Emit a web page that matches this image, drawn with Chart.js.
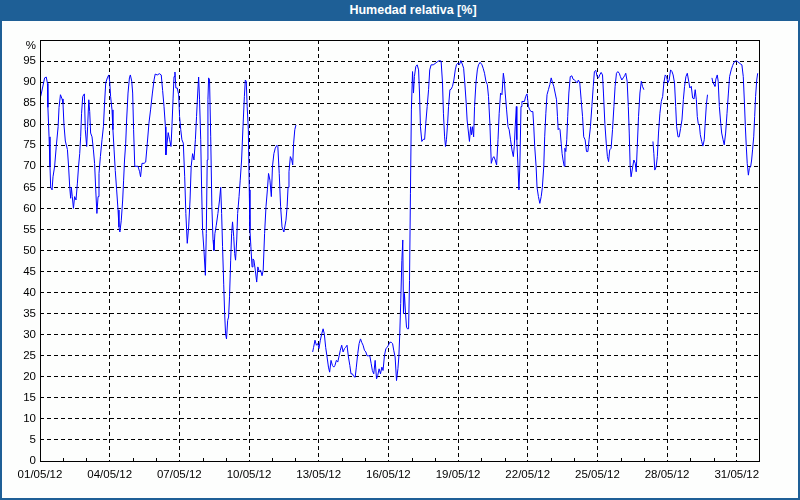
<!DOCTYPE html>
<html>
<head>
<meta charset="utf-8">
<script src="https://cdn.jsdelivr.net/npm/chart.js@4"></script>
<style>
  html, body { margin: 0; padding: 0; background: #fdfefd; }
  #wrap { position: relative; width: 800px; height: 500px; background: #fdfefd; overflow: hidden; }
  #wrap canvas { position: absolute; left: 0; top: 0; }
  #border { position: absolute; left: 0; top: 0; width: 800px; height: 500px; box-sizing: border-box;
            border: 2px solid #1e5f96; pointer-events: none; }
  #title { position: absolute; left: 0; top: 0; width: 800px; height: 21px; box-sizing: border-box;
           padding-left: 26px; background: #1e5f96; color: #ffffff; text-align: center;
           font: bold 12.5px "Liberation Sans", Arial, sans-serif; line-height: 21px; }
</style>
</head>
<body>
<div id="wrap">
  <canvas id="c" width="800" height="500"></canvas>
  <div id="border"></div>
  <div id="title">Humedad relativa [%]</div>
</div>
<script>
// ---- data: [day since 01/05/12 00:00, relative humidity %] ----
const segment1 = [[0.03,86.6],[0.20,91.0],[0.27,91.2],[0.32,89.7],[0.34,84.0],[0.39,77.0],[0.43,70.0],[0.46,65.0],[0.52,64.4],[0.56,67.5],[0.63,70.0],[0.70,74.7],[0.78,79.4],[0.82,84.0],[0.88,87.0],[0.95,86.0],[0.99,85.0],[1.03,80.0],[1.09,76.0],[1.18,74.0],[1.23,70.0],[1.28,65.0],[1.32,62.4],[1.35,65.0],[1.39,62.8],[1.44,60.0],[1.49,62.8],[1.55,62.0],[1.61,66.0],[1.66,70.0],[1.71,73.0],[1.75,77.0],[1.79,82.6],[1.84,86.6],[1.91,87.2],[1.95,78.7],[2.01,74.7],[2.05,79.4],[2.10,85.8],[2.14,83.0],[2.18,77.9],[2.24,77.0],[2.30,73.9],[2.35,70.7],[2.40,64.4],[2.45,58.8],[2.50,62.8],[2.54,68.3],[2.60,72.3],[2.67,76.3],[2.73,79.4],[2.78,85.0],[2.83,89.8],[2.90,91.0],[2.96,91.7],[3.00,90.2],[3.04,86.6],[3.10,83.4],[3.14,78.7],[3.19,73.9],[3.24,69.0],[3.30,64.4],[3.36,59.6],[3.40,55.6],[3.44,54.4],[3.50,57.2],[3.56,62.0],[3.60,66.7],[3.64,71.5],[3.69,75.5],[3.73,81.0],[3.79,87.4],[3.85,91.0],[3.89,91.7],[3.95,90.2],[3.99,87.4],[4.03,78.7],[4.08,70.0],[4.22,70.0],[4.29,68.7],[4.33,67.5],[4.39,70.7],[4.48,70.7],[4.55,71.0],[4.62,75.5],[4.69,80.2],[4.76,83.4],[4.84,87.4],[4.91,90.5],[4.96,91.9],[5.05,91.7],[5.14,92.0],[5.22,91.7],[5.28,88.0],[5.34,84.2],[5.40,79.4],[5.42,72.7],[5.47,75.5],[5.52,78.0],[5.58,76.3],[5.64,74.7],[5.68,79.4],[5.73,86.2],[5.77,91.3],[5.81,92.4],[5.85,88.6],[5.91,88.6],[5.97,87.0],[6.01,81.8],[6.06,78.7],[6.11,76.3],[6.17,75.5],[6.23,67.5],[6.28,58.8],[6.34,51.7],[6.40,55.6],[6.46,62.0],[6.51,70.0],[6.57,73.0],[6.63,71.5],[6.69,76.3],[6.74,81.8],[6.79,87.4],[6.83,91.2],[6.87,85.8],[6.92,76.3],[6.96,64.4],[7.00,54.8],[7.06,50.0],[7.12,44.1],[7.16,54.0],[7.20,71.5],[7.23,85.8],[7.26,91.0],[7.30,90.5],[7.35,77.0],[7.40,60.4],[7.45,52.5],[7.49,50.0],[7.53,54.0],[7.59,56.0],[7.66,58.8],[7.73,62.0],[7.78,65.0],[7.82,58.8],[7.86,50.9],[7.91,42.0],[7.95,35.0],[7.99,30.2],[8.03,29.0],[8.08,33.4],[8.12,34.2],[8.16,39.0],[8.21,47.7],[8.25,54.0],[8.29,56.8],[8.34,53.3],[8.38,49.3],[8.42,47.7],[8.47,52.5],[8.51,58.8],[8.57,62.8],[8.62,66.7],[8.68,71.5],[8.74,79.4],[8.80,86.6],[8.84,90.5],[8.88,90.2],[8.92,84.2],[8.97,78.7],[9.01,64.4],[9.04,54.8],[9.08,50.9],[9.13,46.1],[9.17,48.0],[9.21,47.7],[9.27,45.3],[9.33,42.5],[9.38,46.1],[9.44,45.0],[9.50,45.3],[9.56,44.0],[9.61,45.3],[9.67,54.0],[9.73,60.4],[9.79,64.4],[9.84,68.3],[9.90,66.7],[9.96,62.8],[10.01,70.0],[10.07,73.0],[10.13,74.3],[10.20,75.0],[10.24,74.7],[10.30,68.3],[10.36,60.4],[10.42,55.6],[10.50,54.4],[10.59,57.2],[10.64,60.4],[10.68,65.0],[10.72,68.7],[10.78,72.3],[10.84,71.5],[10.88,70.3],[10.92,75.5],[10.97,78.7],[11.02,79.8]];

const segment2 = [[11.74,25.9],[11.78,27.0],[11.84,28.7],[11.90,27.5],[11.96,27.9],[12.01,26.7],[12.07,28.7],[12.13,30.2],[12.19,31.4],[12.24,30.2],[12.30,27.0],[12.36,24.7],[12.42,22.3],[12.47,21.1],[12.53,23.9],[12.59,22.7],[12.65,22.3],[12.70,22.7],[12.76,23.9],[12.82,23.5],[12.88,25.0],[12.93,26.3],[12.99,27.5],[13.05,25.9],[13.11,26.7],[13.16,27.0],[13.22,27.5],[13.28,24.7],[13.34,22.7],[13.39,20.7],[13.45,20.7],[13.51,20.1],[13.57,19.9],[13.62,22.3],[13.68,25.5],[13.74,27.9],[13.80,29.0],[13.85,28.2],[13.91,27.5],[13.97,26.3],[14.03,25.9],[14.08,25.0],[14.14,25.0],[14.20,25.0],[14.26,23.1],[14.31,21.5],[14.37,20.7],[14.43,23.9],[14.49,19.5],[14.54,20.3],[14.60,21.9],[14.66,20.7],[14.72,22.3],[14.77,21.5],[14.83,25.0],[14.89,26.7],[14.95,27.0],[15.00,27.5],[15.06,28.2],[15.12,28.2],[15.18,27.9],[15.23,26.3],[15.29,24.7],[15.35,19.1],[15.41,21.9],[15.45,24.7],[15.49,30.2],[15.53,37.4],[15.58,47.6],[15.62,52.5],[15.65,35.0],[15.69,39.8],[15.74,35.0],[15.78,31.8],[15.82,31.4],[15.87,31.4],[15.91,42.9],[15.95,63.6],[15.99,83.4],[16.04,92.5],[16.08,87.4],[16.12,91.3],[16.18,93.7],[16.24,94.1],[16.30,92.9],[16.34,87.4],[16.38,79.4],[16.44,75.9],[16.50,76.4],[16.56,76.4],[16.61,80.2],[16.67,84.2],[16.73,88.2],[16.78,92.9],[16.84,94.1],[16.93,94.1],[17.01,94.4],[17.10,94.8],[17.19,95.1],[17.27,95.0],[17.33,89.8],[17.37,82.6],[17.42,77.0],[17.46,74.7],[17.50,76.3],[17.55,80.2],[17.59,84.2],[17.65,88.2],[17.70,88.3],[17.76,89.0],[17.82,90.5],[17.88,92.9],[17.93,94.1],[17.99,94.5],[18.06,94.1],[18.12,95.1],[18.18,94.3],[18.24,93.3],[18.29,89.8],[18.35,85.0],[18.39,81.0],[18.45,77.9],[18.49,75.9],[18.54,79.4],[18.58,77.5],[18.62,79.4],[18.67,77.0],[18.71,84.2],[18.77,89.8],[18.83,92.9],[18.88,94.1],[18.95,94.7],[19.03,94.1],[19.08,93.3],[19.14,92.1],[19.20,90.2],[19.26,89.4],[19.31,86.6],[19.37,80.2],[19.43,70.7],[19.49,71.9],[19.54,72.3],[19.60,71.5],[19.66,70.3],[19.72,76.3],[19.77,82.6],[19.83,87.4],[19.89,87.0],[19.95,92.1],[19.99,90.5],[20.03,87.4],[20.09,83.4],[20.15,79.4],[20.20,78.7],[20.26,76.3],[20.32,73.9],[20.38,72.3],[20.42,74.7],[20.46,79.4],[20.51,84.2],[20.53,76.3],[20.58,70.0],[20.62,64.4],[20.66,70.0],[20.71,84.2],[20.75,85.4],[20.86,85.4],[20.91,86.6],[20.97,87.2],[21.03,84.2],[21.09,83.4],[21.14,83.0],[21.22,83.0],[21.26,79.4],[21.30,74.7],[21.36,70.0],[21.40,65.0],[21.46,62.8],[21.52,61.2],[21.58,62.8],[21.63,65.0],[21.69,70.0],[21.73,77.0],[21.78,82.6],[21.83,87.0],[21.89,88.2],[21.95,89.4],[22.01,91.0],[22.06,90.0],[22.12,89.0],[22.18,87.4],[22.24,85.8],[22.28,81.8],[22.31,78.7],[22.35,79.0],[22.39,78.7],[22.44,75.5],[22.48,73.0],[22.52,71.5],[22.57,70.0],[22.60,74.3],[22.64,73.5],[22.68,76.3],[22.72,81.8],[22.77,87.4],[22.83,91.3],[22.90,91.5],[22.95,90.7],[23.01,90.5],[23.07,90.2],[23.13,89.8],[23.18,90.5],[23.24,89.8],[23.30,85.8],[23.36,81.8],[23.41,77.0],[23.47,76.3],[23.53,73.5],[23.59,73.5],[23.64,76.3],[23.70,79.4],[23.76,84.2],[23.82,88.9],[23.87,92.5],[23.93,92.8],[23.99,91.3],[24.05,91.0],[24.10,91.7],[24.16,92.3],[24.22,91.7],[24.26,87.4],[24.32,80.2],[24.38,75.5],[24.43,72.3],[24.48,71.1],[24.53,73.9],[24.59,74.3],[24.65,78.7],[24.71,84.2],[24.76,88.9],[24.82,92.1],[24.88,92.5],[24.94,92.1],[24.99,91.3],[25.05,90.5],[25.11,91.0],[25.17,91.5],[25.22,92.1],[25.28,90.2],[25.33,84.2],[25.37,77.9],[25.41,70.0],[25.45,67.5],[25.51,69.6],[25.57,71.5],[25.63,70.7],[25.67,68.7],[25.71,73.9],[25.77,81.8],[25.83,87.4],[25.89,90.2],[25.94,89.0],[26.00,88.2]];

const segment3 = [[26.39,75.9],[26.43,73.0],[26.47,69.1],[26.53,69.9],[26.58,72.3],[26.63,77.9],[26.69,82.6],[26.75,85.4],[26.81,86.6],[26.86,89.8],[26.92,91.7],[26.98,91.3],[27.03,89.8],[27.09,90.5],[27.15,92.9],[27.21,92.5],[27.26,91.7],[27.32,89.8],[27.37,84.2],[27.41,79.4],[27.47,77.0],[27.52,77.0],[27.58,79.0],[27.64,81.0],[27.70,85.8],[27.75,88.9],[27.81,91.3],[27.87,92.1],[27.93,90.2],[27.98,88.6],[28.04,89.0],[28.10,86.2],[28.16,86.0],[28.21,88.2],[28.26,85.8],[28.30,81.8],[28.34,80.2],[28.39,79.8],[28.43,77.5],[28.49,75.9],[28.54,74.8],[28.60,76.3],[28.64,80.2],[28.69,84.6],[28.74,87.0]];

const segment4 = [[28.93,91.0],[28.97,90.0],[29.02,89.4],[29.06,89.0],[29.10,90.7],[29.16,91.7],[29.20,90.2],[29.25,84.2],[29.31,80.2],[29.35,77.9],[29.41,76.3],[29.46,75.1],[29.52,77.9],[29.58,82.6],[29.64,87.4],[29.69,91.3],[29.76,92.9],[29.82,93.9],[29.88,94.7],[29.97,95.1],[30.05,94.8],[30.14,94.4],[30.22,94.1],[30.28,91.3],[30.33,85.0],[30.37,79.4],[30.41,74.7],[30.45,70.7],[30.50,67.9],[30.54,69.5],[30.60,70.0],[30.64,71.5],[30.68,73.9],[30.73,77.0],[30.77,81.8],[30.81,86.6],[30.86,90.5],[30.90,92.1]];

// x tick labels, one every 3 days (day 0, 3, 6 ... 30)
const dateLabels = ['01/05/12','04/05/12','07/05/12','10/05/12','13/05/12','16/05/12','19/05/12','22/05/12','25/05/12','28/05/12','31/05/12'];
const daysShown = 31;          // 01/05/12 00:00 .. 01/06/12 00:00
const yUnitLabel = '%';

// ---- build dataset (gaps between segments as null points) ----
const segments = [segment1, segment2, segment3, segment4];
const points = [];
segments.forEach((seg, i) => {
  if (i > 0) {
    const prev = segments[i - 1];
    points.push({ x: (prev[prev.length - 1][0] + seg[0][0]) / 2, y: null });
  }
  seg.forEach(p => points.push({ x: p[0], y: p[1] }));
});

const FONT = { family: '"Liberation Sans", Arial, sans-serif', size: 11.5 };

const framePlugin = {
  id: 'frame',
  afterDatasetsDraw(chart) {
    const { ctx, chartArea: a, scales } = chart;
    ctx.save();
    ctx.strokeStyle = '#000';
    ctx.lineWidth = 1;
    ctx.setLineDash([]);
    ctx.strokeRect(Math.round(a.left) + 0.5, Math.round(a.top) + 0.5,
                   Math.round(a.right - a.left) - 1, Math.round(a.bottom - a.top));
    // daily minor ticks
    ctx.beginPath();
    for (let d = 1; d < daysShown; d++) {
      if (d % 3 === 0) continue;
      const px = Math.round(scales.x.getPixelForValue(d)) + 0.5;
      ctx.moveTo(px, a.bottom - 3);
      ctx.lineTo(px, a.bottom + 1);
    }
    ctx.stroke();
    // unit label at top of the y axis, just under the top edge
    ctx.fillStyle = '#000';
    ctx.font = FONT.size + 'px ' + FONT.family;
    ctx.textAlign = 'right';
    ctx.textBaseline = 'middle';
    ctx.fillText(yUnitLabel, a.left - 4, scales.y.getPixelForValue(100) + 6);
    ctx.restore();
  }
};

new Chart(document.getElementById('c'), {
  type: 'line',
  data: {
    datasets: [{
      data: points,
      borderColor: '#0000ff',
      borderWidth: 1,
      pointRadius: 0,
      tension: 0,
      spanGaps: false,
      fill: false
    }]
  },
  options: {
    responsive: false,
    animation: false,
    events: [],
    layout: { padding: { top: 40, right: 40, left: 0, bottom: 0 } },
    plugins: { legend: { display: false }, tooltip: { enabled: false }, title: { display: false } },
    scales: {
      x: {
        type: 'linear',
        min: 0,
        max: daysShown,
        afterFit(s) { s.height = 39; },
        grid: {
          drawTicks: false,
          lineWidth: 1,
          color: c => (c.tick && c.tick.value % 3 === 0 && c.tick.value > 0 && c.tick.value <= 30) ? '#000' : 'rgba(0,0,0,0)'
        },
        border: { display: false, dash: [4, 3] },
        ticks: {
          stepSize: 1,
          autoSkip: false,
          maxRotation: 0,
          padding: 7,
          color: '#000',
          font: FONT,
          callback: v => (v % 3 === 0 && v / 3 < dateLabels.length) ? dateLabels[v / 3] : ''
        }
      },
      y: {
        min: 0,
        max: 100,
        afterFit(s) { s.width = 40; },
        grid: {
          drawTicks: false,
          lineWidth: 1,
          color: c => (c.tick && c.tick.value > 0 && c.tick.value < 100) ? '#000' : 'rgba(0,0,0,0)'
        },
        border: { display: false, dash: [4, 3] },
        ticks: {
          stepSize: 5,
          padding: 4,
          color: '#000',
          font: FONT,
          callback: v => v === 100 ? '' : String(v)
        }
      }
    }
  },
  plugins: [framePlugin]
});
</script>
</body>
</html>
